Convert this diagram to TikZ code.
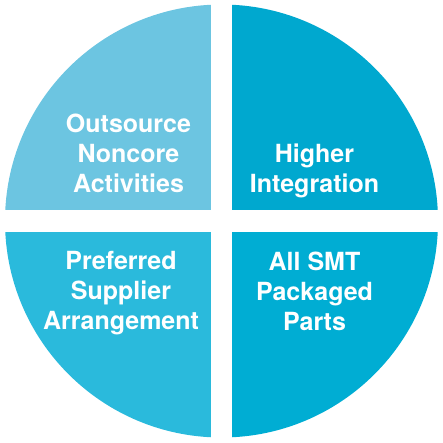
\documentclass[tikz,border=0pt]{standalone}
\usepackage{fontspec}
\setmainfont{TeX Gyre Heros}
\usetikzlibrary{calc}
\definecolor{quartertl}{RGB}{108,197,225}
\definecolor{quartertr}{RGB}{0,168,207}
\definecolor{quarterbl}{RGB}{42,186,220}
\definecolor{quarterbr}{RGB}{0,173,211}
\tikzset{quarter label/.style={text=white,inner sep=0pt,align=center,
  font=\bfseries\fontsize{25}{30}\selectfont}}

\begin{document}
\begin{tikzpicture}[x=1pt,y=-1pt]
  \useasboundingbox (0,0) rectangle (443,442);
  % Quarters
  \coordinate (c) at (221.5,221);
  \begin{scope}
    \clip (c) circle[radius=216.5pt];
    \fill[quartertl] (0,0) rectangle (210.7,210);
    \fill[quartertr] (232.3,0) rectangle (443,210);
    \fill[quarterbl] (0,232.3) rectangle (210.7,442);
    \fill[quarterbr] (232.3,232.3) rectangle (443,442);
  \end{scope}

  % Labels
  \node[quarter label] (outsource) at (128.5,153.2) {Outsource\\Noncore\\Activities};
  \node[quarter label] (higher) at (314.5,171.3) {Higher\\Integration};
  \node[quarter label] (preferred) at (121,293.4) {Preferred\\Supplier\\Arrangement};
  \node[quarter label] (smt) at (314.5,291.1) {All SMT\\Packaged\\Parts};
\end{tikzpicture}
\end{document}
